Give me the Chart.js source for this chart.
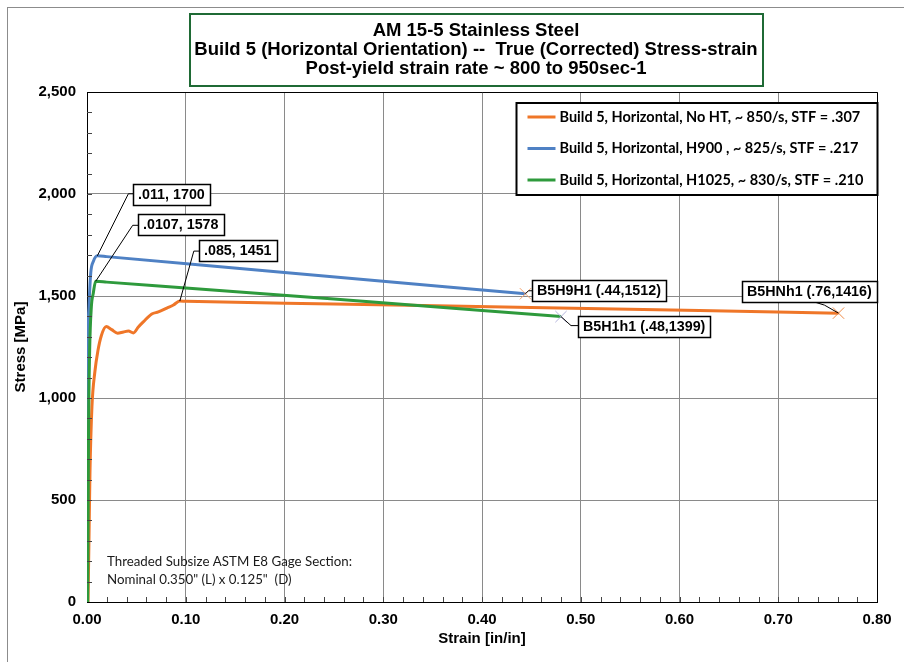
<!DOCTYPE html>
<html>
<head>
<meta charset="utf-8">
<title>AM 15-5 Stainless Steel - Build 5</title>
<script src="https://cdn.jsdelivr.net/npm/chart.js@4.4.1/dist/chart.umd.min.js"></script>
<style>
    html, body { margin: 0; padding: 0; background: #fff; }
    #wrap { position: relative; width: 904px; height: 662px; }
</style>
</head>
<body>
<div id="wrap"><canvas id="chart" width="904" height="662"></canvas></div>
<script>
// Series data (strain in/in, stress MPa)
const orangeStrain = [0.001, 0.002, 0.003, 0.005, 0.008, 0.011, 0.0145, 0.0195, 0.025, 0.031, 0.037, 0.042, 0.047, 0.052, 0.057, 0.0656, 0.0723, 0.0808, 0.0875, 0.094, 0.10, 0.25, 0.45, 0.62, 0.761];
const orangeStress = [0, 304, 632, 956, 1130, 1230, 1305, 1350, 1335, 1318, 1324, 1328, 1319, 1348, 1373, 1412, 1422, 1441, 1456, 1475, 1474, 1461, 1444, 1429, 1416];

const blueStrain = [0, 0.0006, 0.001, 0.002, 0.0038, 0.0065, 0.0105, 0.02, 0.2, 0.444];
const blueStress = [0, 700, 1235, 1446, 1613, 1670, 1697, 1693, 1615, 1511];

const greenStrain = [0.0007, 0.0015, 0.0027, 0.0044, 0.0064, 0.0088, 0.02, 0.25, 0.48];
const greenStress = [0, 800, 1235, 1446, 1515, 1572, 1568, 1485, 1399];

const seriesLabels = [
    'Build 5, Horizontal, No HT, ~ 850/s, STF = .307',
    'Build 5, Horizontal, H900 , ~ 825/s, STF = .217',
    'Build 5, Horizontal, H1025, ~ 830/s, STF = .210'
];

const titleLines = [
    'AM 15-5 Stainless Steel',
    'Build 5 (Horizontal Orientation) --  True (Corrected) Stress-strain',
    'Post-yield strain rate ~ 800 to 950sec-1'
];

const noteLines = [
    'Threaded Subsize ASTM E8 Gage Section:',
    'Nominal 0.350" (L) x 0.125"  (D)'
];

// Callout labels and the dataset / point they point at
const calloutLabels = ['.011, 1700', '.0107, 1578', '.085, 1451', 'B5H9H1 (.44,1512)', 'B5H1h1 (.48,1399)', 'B5HNh1 (.76,1416)'];
const calloutSeries = [1, 2, 0, 1, 2, 0];
const calloutPoint = [6, 5, 19, 9, 8, 24];

const xTicks = [0, 0.1, 0.2, 0.3, 0.4, 0.5, 0.6, 0.7, 0.8];
const yTicks = [0, 500, 1000, 1500, 2000, 2500];

const COLORS = ['#ef7628', '#4f81c4', '#2e9a3c'];
const FONT = "'Liberation Sans', Arial, sans-serif";

function toPoints(xs, ys) {
    return xs.map((x, i) => ({ x: x, y: ys[i] }));
}

// only the last point of each series gets an X marker
function lastOnly(arr, size) {
    return arr.map((_, i) => (i === arr.length - 1 ? size : 0));
}

// box positions for the callouts, relative to their data point (pixels)
const calloutLayout = [
    { ex: 31, ey: -62, bx: 36, by: -72 },
    { ex: 37, ey: -56, bx: 42, by: -67 },
    { ex: 14, ey: -50, bx: 19, by: -61 },
    { ex: 3, ey: -3, bx: 7, by: -14 },
    { ex: 10, ey: 9, bx: 17, by: -1 },
    { ex: -14, ey: -8, bx: -96, by: -32, below: true }
];

const framePlugin = {
    id: 'frame',
    beforeDraw(chart) {
        const ctx = chart.ctx;
        ctx.save();
        ctx.fillStyle = '#fff';
        ctx.fillRect(0, 0, chart.width, chart.height);
        ctx.strokeStyle = '#8c8c8c';
        ctx.lineWidth = 1;
        ctx.strokeRect(7.5, 7.5, 1000, 1000);
        ctx.restore();
    },
    afterDraw(chart) {
        const ctx = chart.ctx;
        const a = chart.chartArea;
        const xs = chart.scales.x;
        const ys = chart.scales.y;
        ctx.save();

        // plot top and right border
        const r = Math.round(a.right) + 0.5, t = Math.round(a.top) + 0.5;
        ctx.strokeStyle = '#000';
        ctx.lineWidth = 1;
        ctx.beginPath();
        ctx.moveTo(a.left, t);
        ctx.lineTo(r, t);
        ctx.lineTo(r, a.bottom);
        ctx.stroke();

        // minor tick marks, inside
        ctx.strokeStyle = '#444';
        ctx.beginPath();
        for (let v = 0.02; v < 0.8; v += 0.02) {
            const px = Math.round(xs.getPixelForValue(v)) + 0.5;
            ctx.moveTo(px, a.bottom);
            ctx.lineTo(px, a.bottom - 5);
        }
        for (let v = 100; v < 2500; v += 100) {
            const py = Math.round(ys.getPixelForValue(v)) + 0.5;
            ctx.moveTo(a.left, py);
            ctx.lineTo(a.left + 5, py);
        }
        ctx.stroke();

        // title box
        ctx.fillStyle = '#fff';
        ctx.fillRect(190, 14, 573, 72);
        ctx.strokeStyle = '#1f6a35';
        ctx.lineWidth = 2;
        ctx.strokeRect(190, 14, 573, 72);
        ctx.fillStyle = '#000';
        ctx.font = 'bold 18.5px ' + FONT;
        ctx.textAlign = 'center';
        ctx.textBaseline = 'middle';
        titleLines.forEach((s, i) => ctx.fillText(s, 476, 31 + i * 19));

        // legend box
        const lw = 361, lh = 92;
        const lx = a.right - lw + 0.5, ly = a.top + 11;
        ctx.fillStyle = '#fff';
        ctx.fillRect(lx, ly, lw, lh);
        ctx.strokeStyle = '#000';
        ctx.lineWidth = 2;
        ctx.strokeRect(lx, ly, lw, lh);
        ctx.font = 'bold 14.5px Lato, sans-serif';
        ctx.textAlign = 'left';
        seriesLabels.forEach((s, i) => {
            const ry = ly + 14 + i * 31.5;
            ctx.strokeStyle = COLORS[i];
            ctx.lineWidth = 3;
            ctx.beginPath();
            ctx.moveTo(lx + 11, ry);
            ctx.lineTo(lx + 39, ry);
            ctx.stroke();
            ctx.fillStyle = '#000';
            ctx.fillText(s, lx + 43, ry);
        });

        // gage note
        ctx.font = '13.3px Lato, sans-serif';
        ctx.fillStyle = '#1a1a1a';
        noteLines.forEach((s, i) => ctx.fillText(s, 107, 562 + i * 18));

        // callouts
        ctx.font = 'bold 14.3px ' + FONT;
        calloutLabels.forEach((label, i) => {
            const pt = chart.getDatasetMeta(calloutSeries[i]).data[calloutPoint[i]];
            const L = calloutLayout[i];
            const w = Math.round(ctx.measureText(label).width) + 10;
            const h = 21;
            const bx = Math.round(pt.x + L.bx), by = Math.round(pt.y + L.by);
            const ex = pt.x + L.ex, ey = pt.y + L.ey;
            ctx.strokeStyle = '#000';
            ctx.lineWidth = 1;
            ctx.beginPath();
            ctx.moveTo(pt.x, pt.y);
            ctx.lineTo(ex, ey);
            if (L.below) ctx.lineTo(ex - 10, by + h);
            else ctx.lineTo(bx, ey);
            ctx.stroke();
            ctx.fillStyle = '#fff';
            ctx.fillRect(bx, by, w, h);
            ctx.lineWidth = 1.5;
            ctx.strokeRect(bx + 0.5, by + 0.5, w, h);
            ctx.fillStyle = '#000';
            ctx.fillText(label, bx + 5, by + h / 2 + 1);
        });
        ctx.restore();
    }
};

function makeDataset(i, xs, ys, markColor, order) {
    return {
        label: seriesLabels[i],
        data: toPoints(xs, ys),
        showLine: true,
        borderColor: COLORS[i],
        borderWidth: 3,
        cubicInterpolationMode: 'monotone',
        pointStyle: 'crossRot',
        pointRadius: lastOnly(xs, 8),
        pointBorderColor: markColor,
        pointBorderWidth: 1,
        pointBackgroundColor: markColor,
        order: order
    };
}

const axisTitleFont = { family: FONT, size: 15, weight: 'bold' };
const tickFont = { family: FONT, size: 15, weight: 'bold' };

new Chart(document.getElementById('chart'), {
    type: 'scatter',
    data: {
        datasets: [
            makeDataset(0, orangeStrain, orangeStress, '#f08a45', 3),
            makeDataset(1, blueStrain, blueStress, '#f4a470', 2),
            makeDataset(2, greenStrain, greenStress, '#b4b4dc', 1)
        ]
    },
    options: {
        responsive: false,
        animation: false,
        devicePixelRatio: 1,
        layout: { padding: { top: 92, right: 27, left: 0, bottom: 0 } },
        plugins: {
            legend: { display: false },
            tooltip: { enabled: false }
        },
        scales: {
            x: {
                type: 'linear',
                min: 0,
                max: 0.8,
                afterFit: s => { s.height = 60; },
                afterBuildTicks: s => { s.ticks = xTicks.map(v => ({ value: v })); },
                ticks: {
                    color: '#000',
                    font: tickFont,
                    padding: 9,
                    maxRotation: 0,
                    callback: v => v.toFixed(2)
                },
                grid: { color: '#8a8a8a', drawTicks: false },
                border: { color: '#000', width: 1 },
                title: {
                    display: true,
                    text: 'Strain [in/in]',
                    color: '#000',
                    font: axisTitleFont,
                    padding: { top: 0, bottom: 14 }
                }
            },
            y: {
                type: 'linear',
                min: 0,
                max: 2500,
                afterFit: s => { s.width = 87; },
                afterBuildTicks: s => { s.ticks = yTicks.map(v => ({ value: v })); },
                ticks: {
                    color: '#000',
                    font: tickFont,
                    padding: 11,
                    callback: v => v.toLocaleString('en-US')
                },
                grid: { color: '#8a8a8a', drawTicks: false },
                border: { color: '#000', width: 1 },
                title: {
                    display: true,
                    text: 'Stress [MPa]',
                    color: '#000',
                    font: axisTitleFont,
                    padding: { top: 12, bottom: 0 }
                }
            }
        }
    },
    plugins: [framePlugin]
});
</script>
</body>
</html>
